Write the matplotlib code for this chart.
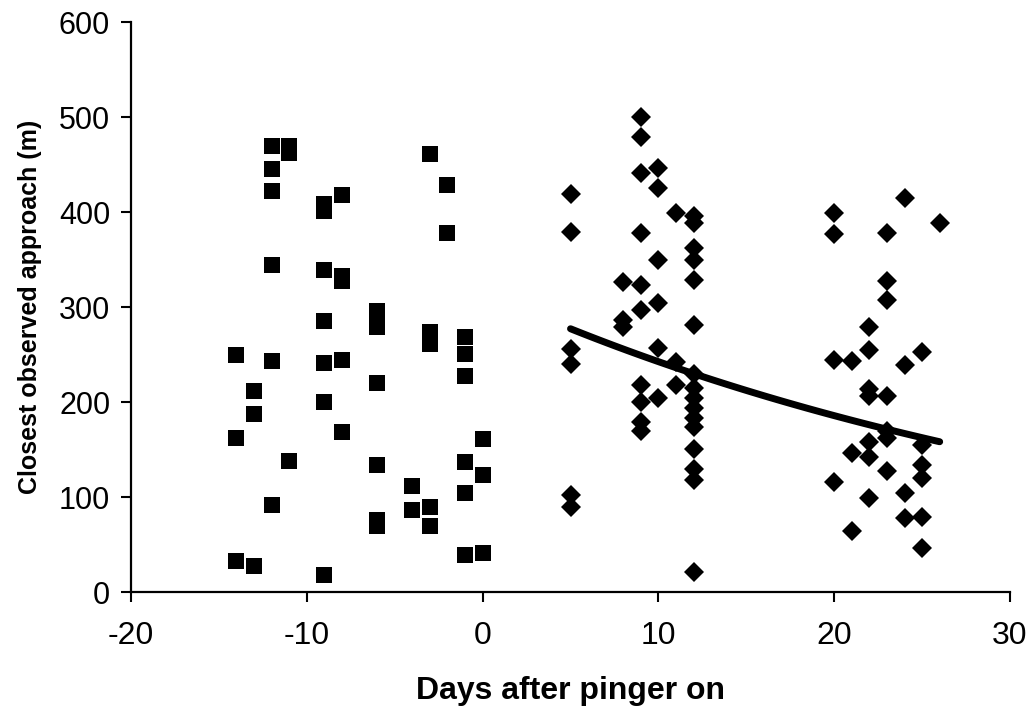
import numpy as np
import matplotlib
matplotlib.use("Agg")
import matplotlib.pyplot as plt

plt.rcParams['font.family'] = ['Liberation Sans', 'DejaVu Sans']
plt.rcParams['axes.unicode_minus'] = False

# Before pinger (squares): day -> list of closest approach (m)
before_days = {
    -14: [250, 162, 33],
    -13: [212, 187, 27],
    -12: [470, 445, 422, 344, 243, 92],
    -11: [470, 462, 138],
    -9: [408, 401, 339, 285, 241, 200, 18],
    -8: [418, 333, 327, 244, 168],
    -6: [296, 279, 220, 134, 76, 70],
    -4: [112, 86],
    -3: [461, 274, 261, 89, 69],
    -2: [428, 378],
    -1: [268, 251, 227, 137, 104, 39],
    0: [161, 123, 41],
}

# After pinger on (diamonds)
after_days = {
    5: [419, 379, 256, 240, 102, 90],
    8: [326, 286, 279],
    9: [500, 479, 441, 378, 323, 297, 218, 200, 179, 169],
    10: [446, 425, 350, 304, 257, 204],
    11: [399, 242, 218],
    12: [396, 388, 362, 350, 328, 281, 230, 215, 204, 194, 183, 174, 151, 130, 118, 21],
    20: [399, 377, 244, 116],
    21: [243, 146, 64],
    22: [279, 255, 214, 206, 158, 142, 99],
    23: [378, 327, 307, 206, 169, 162, 127],
    24: [415, 239, 104, 78],
    25: [253, 155, 134, 120, 79, 46],
    26: [388],
}

# Exponential trend line y = a * exp(b * x) over the post-pinger range
trend_a = 316.7
trend_b = -0.0267
trend_range = (5, 26)

x_ticks = [-20, -10, 0, 10, 20, 30]
y_ticks = [0, 100, 200, 300, 400, 500, 600]

bx = [d for d, vals in before_days.items() for _ in vals]
by = [v for vals in before_days.values() for v in vals]
ax_ = [d for d, vals in after_days.items() for _ in vals]
ay = [v for vals in after_days.values() for v in vals]

fig = plt.figure(figsize=(10.34, 7.13), dpi=100)
ax = fig.add_axes([0.1267, 0.1697, 0.8501, 0.7994])

ax.plot(bx, by, linestyle='none', marker='s', markersize=11.5,
        color='black', markeredgewidth=0)
ax.plot(ax_, ay, linestyle='none', marker='D', markersize=9.8,
        color='black', markeredgewidth=0)

tx = np.linspace(trend_range[0], trend_range[1], 100)
ty = trend_a * np.exp(trend_b * tx)
ax.plot(tx, ty, color='black', linewidth=5, solid_capstyle='round')

ax.set_xlim(-20, 30)
ax.set_ylim(0, 600)
ax.set_xticks(x_ticks)
ax.set_yticks(y_ticks)
ax.spines['top'].set_visible(False)
ax.spines['right'].set_visible(False)
for s in ('left', 'bottom'):
    ax.spines[s].set_linewidth(1.6)
ax.tick_params(axis='x', direction='out', length=7, width=1.5, labelsize=23, pad=14)
ax.tick_params(axis='y', direction='out', length=7, width=1.5, labelsize=22, pad=8)

ax.set_xlabel('Days after pinger on', fontsize=23, fontweight='bold', labelpad=18)
ax.set_ylabel('Closest observed approach (m)', fontsize=18, fontweight='bold', labelpad=12)

fig.savefig('out.png', dpi=100)
